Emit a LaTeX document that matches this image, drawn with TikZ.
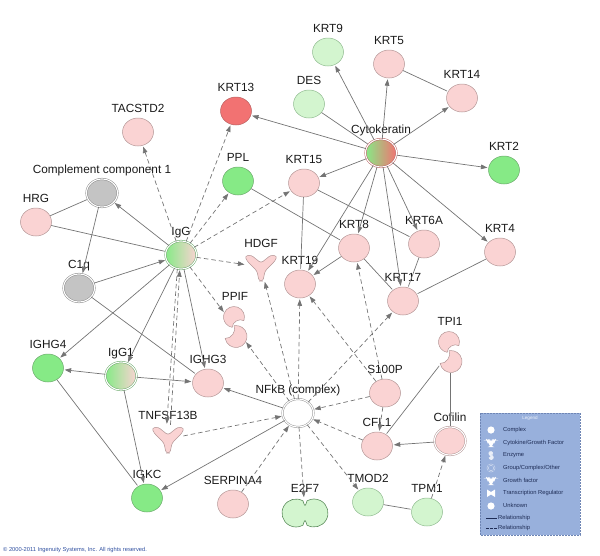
\documentclass[tikz,border=0pt]{standalone}
\usepackage{fontspec}
\setmainfont{Liberation Sans}
\usetikzlibrary{arrows.meta,shapes.geometric}

\definecolor{pinkfill}{HTML}{FAD3D3}
\definecolor{pinkline}{HTML}{B39696}
\definecolor{lgreenfill}{HTML}{D3F5CF}
\definecolor{lgreenline}{HTML}{8FBA8F}
\definecolor{greenfill}{HTML}{86EA86}
\definecolor{greenline}{HTML}{6CA96C}
\definecolor{redfill}{HTML}{F27272}
\definecolor{redline}{HTML}{B86262}
\definecolor{grayfill}{HTML}{C4C4C4}
\definecolor{grayline}{HTML}{8A8A8A}
\definecolor{nfkbline}{HTML}{9A9A9A}
\definecolor{e2f7line}{HTML}{5E8E5E}
\definecolor{edgecol}{HTML}{747474}
\definecolor{labeltext}{HTML}{1A1A1A}
\definecolor{legendfill}{HTML}{98B0DC}
\definecolor{legendline}{HTML}{6F86B5}
\definecolor{legendtext}{HTML}{1E2C55}
\definecolor{copycol}{HTML}{3050A0}

\newcommand\genefont{\fontsize{11.8}{14}\selectfont}
\newcommand\legendfont{\fontsize{5.8}{7}\selectfont}
\newcommand\copyfont{\fontsize{5.75}{6.5}\selectfont}

\begin{document}
\begin{tikzpicture}[x=1pt, y=-1pt,
  >={Triangle[length=6.5pt,width=4.6pt]},
  gene/.style={ellipse, minimum width=31pt, minimum height=28pt, inner sep=0pt, line width=0.5pt},
  pk/.style={gene, fill=pinkfill, draw=pinkline},
  lg/.style={gene, fill=lgreenfill, draw=lgreenline},
  gr/.style={gene, fill=greenfill, draw=greenline},
  rd/.style={gene, fill=redfill, draw=redline},
  grp/.style={gene, double=white, double distance=1.1pt},
  shp/.style={gene, draw=none},
  enz/.style={shp, minimum width=28pt, minimum height=42pt, label distance=8.5pt},
  every label/.style={font=\genefont, inner sep=0pt, text depth=0pt, text=labeltext},
  label distance=5.5pt,
  sol/.style={edgecol, line width=0.7pt, shorten >=1pt},
  dsh/.style={sol, dash pattern=on 4.5pt off 3pt},
  cytokine/.pic={\begin{scope}[yscale=-1]
    \path[pic actions, line width=0.5pt, rounded corners=2.5pt] (-16,11) -- (-10,12) -- (0,4) -- (10,12)
      -- (16,11) -- (14,6) -- (4,-4) -- (2,-14) -- (-2,-14) -- (-4,-4) -- (-14,6) -- cycle;
  \end{scope}},
  enzyme/.pic={\begin{scope}[yscale=-1]
    \path[pic actions, line width=0.5pt] (8.87,6.41) arc[start angle=-20, end angle=260, radius=10.5]
      to[bend right=60] (8.87,6.41) -- cycle;
    \path[pic actions, line width=0.5pt] (-9.83,-11.41) arc[start angle=190, end angle=460, radius=11]
      to[bend right=60] (-9.83,-11.41) -- cycle;
  \end{scope}},
  treg/.pic={\begin{scope}[yscale=-1]
    \path[pic actions, line width=0.6pt] (-2,12.1) arc[start angle=60, end angle=300, radius=14]
      .. controls (0,-6) .. (2,-12.1) arc[start angle=240, end angle=480, radius=14]
      .. controls (0,6) .. (-2,12.1) -- cycle;
  \end{scope}}]
\useasboundingbox (0,0) rectangle (600,555);

\node[lg, label=above:KRT9] (krt9) at (328,52) {};
\node[pk, label=above:KRT5] (krt5) at (389,64) {};
\node[pk, label=above:KRT14] (krt14) at (462,98) {};
\node[lg, label=above:DES] (des) at (309,104) {};
\node[rd, label=above:KRT13] (krt13) at (236,111) {};
\node[pk, label=above:TACSTD2] (tacstd2) at (138,132) {};
\node[grp, draw=redline, left color=greenfill, right color=redfill, label=above:Cytokeratin] (cyto) at (381,153) {};
\node[gr, label=above:KRT2] (krt2) at (504,170) {};
\node[gr, label=above:PPL] (ppl) at (238,181) {};
\node[pk, label=above:KRT15] (krt15) at (304,183) {};
\node[grp, fill=grayfill, draw=grayline, label=above:Complement component 1] (cc1) at (102,193) {};
\node[pk, label=above:HRG] (hrg) at (36,222) {};
\node[grp, draw=greenline, left color=greenfill, right color=pinkfill, label=above:IgG] (igg) at (181,255) {};
\node[pk, label=above:KRT8] (krt8) at (354,248) {};
\node[pk, label=above:KRT6A] (krt6a) at (424,244) {};
\node[pk, label=above:KRT4] (krt4) at (500,252) {};
\node[pk, label=above:KRT19] (krt19) at (300,284) {};
\node[pk, label=above:KRT17] (krt17) at (403,301) {};
\node[grp, fill=grayfill, draw=grayline, label=above:C1q] (c1q) at (79,288) {};
\node[gr, label=above:IGHG4] (ighg4) at (48,368) {};
\node[grp, draw=greenline, left color=greenfill, right color=pinkfill, label=above:IgG1] (igg1) at (121,376) {};
\node[pk, label=above:IGHG3] (ighg3) at (208,383) {};
\node[pk, label=above:S100P] (s100p) at (385,393) {};
\node[grp, fill=white, draw=nfkbline, label={above:NFkB (complex)}] (nfkb) at (298,413) {};
\node[pk, label=above:CFL1] (cfl1) at (377,446) {};
\node[grp, fill=pinkfill, draw=pinkline, label=above:Cofilin] (cofilin) at (450,441) {};
\node[gr, label=above:IGKC] (igkc) at (147,498) {};
\node[pk, label=above:SERPINA4] (serpina4) at (233,504) {};
\node[lg, label=above:TMOD2] (tmod2) at (368,502) {};
\node[lg, label=above:TPM1] (tpm1) at (427,512) {};

\pic[draw=pinkline, fill=pinkfill] at (261,267) {cytokine};
\node[shp, label=above:HDGF] (hdgf) at (261,267) {};
\pic[draw=pinkline, fill=pinkfill] at (168,439) {cytokine};
\node[shp, label=above:TNFSF13B] (tnfsf13b) at (168,439) {};
\pic[draw=pinkline, fill=pinkfill] at (235,327) {enzyme};
\node[enz, label=above:PPIF] (ppif) at (235,327) {};
\pic[draw=pinkline, fill=pinkfill] at (450,352) {enzyme};
\node[enz, label=above:TPI1] (tpi1) at (450,352) {};
\pic[draw=e2f7line, fill=lgreenfill] at (305,513) {treg};
\node[shp, minimum width=46pt, minimum height=29pt, label=above:E2F7] (e2f7) at (305,513) {};

\path[draw,sol,->] (cyto) -- (krt13);
\path[draw,sol,->] (cyto) -- (krt9);
\path[draw,sol,->] (cyto) -- (krt5);
\path[draw,sol,->] (cyto) -- (krt14);
\path[draw,sol,->] (cyto) -- (krt2);
\path[draw,sol,->] (cyto) -- (krt15);
\path[draw,sol,->] (cyto) -- (krt4);
\path[draw,sol,->] (cyto) -- (krt6a);
\path[draw,sol,->] (cyto) -- (krt8);
\path[draw,sol,->] (cyto) -- (krt17);
\path[draw,sol,->] (cyto) -- (krt19);
\path[draw,sol,->] (krt8) -- (krt19);
\path[draw,sol] (des) -- (cyto);
\path[draw,sol] (krt5) -- (krt14);
\path[draw,sol] (krt15) -- (krt19);
\path[draw,sol] (krt15) -- (krt6a);
\path[draw,sol] (ppl) -- (krt8);
\path[draw,sol] (krt8) -- (krt17);
\path[draw,sol] (krt6a) -- (krt17);
\path[draw,sol] (krt4) -- (krt17);

\path[draw,sol,->] (igg) -- (cc1);
\path[draw,sol,->] (cc1) -- (c1q);
\path[draw,sol,->] (c1q) -- (igg);
\path[draw,sol,->] (igg) -- (ighg3);
\path[draw,sol,->] (igg) -- (igg1);
\path[draw,sol,->] (igg) -- (ighg4);
\path[draw,sol,->] (igg1) -- (ighg4);
\path[draw,sol,->] (igg1) -- (ighg3);
\path[draw,sol,->] (igg1) -- (igkc);
\path[draw,sol] (hrg) -- (igg);
\path[draw,sol] (hrg) -- (cc1);
\path[draw,sol] (c1q) -- (ighg3);
\path[draw,sol] (ighg4) -- (igkc);

\path[draw,dsh,->] (igg) -- (tacstd2);
\path[draw,dsh,->] (igg) -- (krt13);
\path[draw,dsh,->] (igg) -- (ppl);
\path[draw,dsh,->] (igg) -- (krt15);
\path[draw,dsh,->] (igg) -- (hdgf);
\path[draw,dsh,->] (igg) -- (ppif);
\path[draw,dsh,->] (igg.-105) -- (tnfsf13b.95);
\path[draw,dsh,->] (tnfsf13b.80) -- (igg.-95);

\path[draw,sol,->] (nfkb) -- (ighg3);
\path[draw,sol,->] (nfkb) -- (igkc);
\path[draw,dsh,->] (tnfsf13b) -- (nfkb);
\path[draw,dsh,->] (serpina4) -- (nfkb);
\path[draw,dsh,->] (nfkb) -- (ppif);
\path[draw,dsh,->] (nfkb) -- (hdgf);
\path[draw,dsh,->] (nfkb) -- (krt19);
\path[draw,dsh,->] (nfkb) -- (krt17);
\path[draw,dsh,->] (nfkb) -- (e2f7);
\path[draw,dsh,->] (nfkb) -- (tmod2);
\path[draw,dsh,->] (s100p) -- (nfkb);
\path[draw,dsh,->] (cfl1) -- (nfkb);
\path[draw,dsh,->] (s100p) -- (krt19);
\path[draw,dsh,->] (s100p) -- (krt8);
\path[draw,dsh,->] (s100p) -- (cfl1);
\path[draw,sol,->] (cofilin) -- (cfl1);
\path[draw,sol] (tpi1) -- (cfl1);
\path[draw,sol] (tpi1) -- (cofilin);
\path[draw,dsh,->] (tpm1) -- (cofilin);
\path[draw,sol] (tmod2) -- (tpm1);

% legend
\path[draw=legendline, fill=legendfill, line width=0.6pt, dash pattern=on 2pt off 1pt] (480,413) rectangle (580,535);
\node[font=\fontsize{4.6}{5}\selectfont, text=white!85!legendfill] at (530,418) {Legend};
\foreach \txt [count=\i] in {Complex, Cytokine/Growth Factor, Enzyme, Group/Complex/Other, Growth factor, Transcription Regulator, Unknown}
  \node[anchor=west, font=\legendfont, text=legendtext, inner sep=0pt] at (503,{430+12.6*(\i-1)}) {\txt};
\fill[white] (491,430) circle[radius=3.6];
\pic[fill=white, draw=white, scale=0.27] at (491,443) {cytokine};
\pic[fill=white!80!legendfill, draw=white!80!legendfill, scale=0.2] at (491,455.5) {enzyme};
\draw[white!70!legendfill, double=legendfill, double distance=0.8pt, line width=0.4pt] (491,468) circle[radius=3.4];
\pic[fill=white, draw=white, scale=0.27] at (491,481) {cytokine};
\fill[white] (487,489.5) -- (491,492) -- (495,489.5) -- (495,497) -- (491,494.5) -- (487,497) -- cycle;
\fill[white] (491,506) circle[radius=3.6];
\draw[legendtext, line width=0.7pt] (486,518) -- (497,518);
\draw[legendtext, line width=0.7pt, dash pattern=on 2.5pt off 1.5pt] (486,528) -- (497,528);
\node[anchor=west, font=\legendfont, text=legendtext, inner sep=0pt] at (498,518) {Relationship};
\node[anchor=west, font=\legendfont, text=legendtext, inner sep=0pt] at (498,528) {Relationship};

\node[anchor=west, font=\copyfont, text=copycol, inner sep=0pt] at (3,550) {\textcopyright{} 2000-2011 Ingenuity Systems, Inc. All rights reserved.};
\end{tikzpicture}
\end{document}
